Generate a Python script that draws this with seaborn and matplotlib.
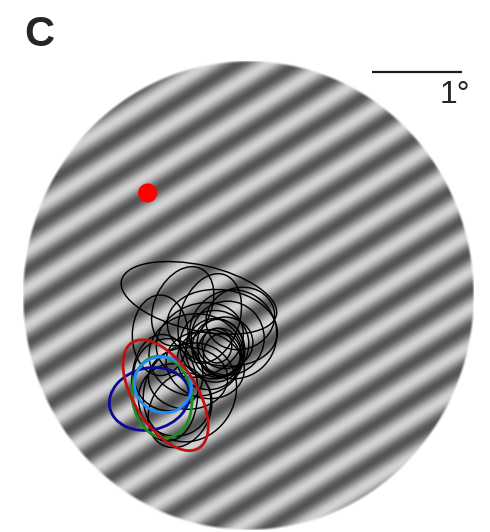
import numpy as np
import pandas as pd
import seaborn as sns
import matplotlib
matplotlib.use("Agg")
import matplotlib.pyplot as plt
from matplotlib.patches import Ellipse

sns.set_style("white")
plt.rcParams['font.family'] = ['Liberation Sans', 'DejaVu Sans']

# stimulus (grating in a circular aperture), all in degrees
aperture_radius = 2.5
grating_period = 0.34      # deg per cycle
grating_orient = 31        # stripe direction, deg above horizontal
grating_dark_phase = 0.142
gray_mean, gray_amp = 0.58, 0.25

# fixation point
fix_x = [-1.11]
fix_y = [1.10]

# receptive fields of the other cells (black)
rf_x = [-0.54, -0.72, -0.97, -0.92, -0.28, -0.16, -0.42, -0.66, -0.81, -0.36, -0.33, -0.31, -0.37,
        -0.28, -0.43, -0.25, -0.47, -0.22, -0.53, -0.75, -0.08, -0.34, -0.57, -0.64, -0.88]
rf_y = [-0.02, -0.11, -0.42, -0.98, -0.34, -0.41, -0.24, -0.88, -1.11, -0.58, -0.56, -0.60, -0.52,
        -0.63, -0.68, -0.50, -0.74, -0.45, -0.47, -1.22, -0.24, -0.53, -0.63, -1.03, -0.84]
rf_w = [1.76, 0.90, 0.62, 0.73, 1.23, 0.97, 0.66, 0.88, 0.81, 0.66, 0.57, 0.48, 0.77,
        0.42, 0.70, 0.62, 0.88, 0.81, 0.99, 0.66, 0.77, 0.33, 1.05, 0.99, 0.77]
rf_h = [0.70, 0.62, 0.86, 1.14, 0.81, 0.95, 0.99, 0.66, 0.77, 0.68, 0.62, 0.51, 0.73,
        0.46, 0.64, 0.55, 0.70, 0.79, 0.77, 0.84, 0.66, 0.37, 0.88, 1.10, 0.77]
rf_angle = [-12, 62, 0, 5, -8, 0, -20, 0, -20, 0, 0, 0, 10,
            0, 0, 0, -15, 0, 20, -30, 15, 0, 0, -40, 0]

# highlighted cells
hl_color = ['#0a0a96', '#1e8c1e', '#1e8cff', '#c01010']
hl_x = [-1.09, -0.95, -0.94, -0.91]
hl_y = [-1.10, -1.08, -0.95, -1.06]
hl_w = [0.90, 0.66, 0.64, 1.35]
hl_h = [0.66, 0.88, 0.59, 0.69]
hl_angle = [12, 10, -20, -56]

rfs = pd.DataFrame({'x': rf_x, 'y': rf_y, 'w': rf_w, 'h': rf_h, 'angle': rf_angle})
hls = pd.DataFrame({'x': hl_x, 'y': hl_y, 'w': hl_w, 'h': hl_h, 'angle': hl_angle, 'color': hl_color})

fig = plt.figure(figsize=(4.9, 5.32), dpi=100)
ax = fig.add_axes([0, 0, 1, 1])

# grating image with soft circular edge
n = 700
g = np.linspace(-aperture_radius, aperture_radius, n)
gx, gy = np.meshgrid(g, g)
th = np.deg2rad(grating_orient)
u = -np.sin(th) * gx + np.cos(th) * gy
lum = gray_mean - gray_amp * np.cos(2 * np.pi * (u - grating_dark_phase) / grating_period)
r = np.hypot(gx, gy)
alpha = np.clip((aperture_radius - r) / 0.03 + 0.5, 0, 1)
img = np.dstack([lum, lum, lum, alpha])
ax.imshow(img, extent=[-aperture_radius, aperture_radius, -aperture_radius, aperture_radius],
          origin='lower', interpolation='bilinear', zorder=1)

for _, row in rfs.iterrows():
    ax.add_patch(Ellipse((row.x, row.y), row.w, row.h, angle=row.angle, fill=False,
                         edgecolor='black', lw=1.05, zorder=2))
for _, row in hls.iterrows():
    ax.add_patch(Ellipse((row.x, row.y), row.w, row.h, angle=row.angle, fill=False,
                         edgecolor=row.color, lw=2.0, zorder=3))

sns.scatterplot(x=fix_x, y=fix_y, color='#ff0000', s=190, edgecolor='none', ax=ax, zorder=4)

# 1 degree scale bar
ax.plot([1.383, 2.383], [2.393, 2.393], color='#1a1a1a', lw=1.6, solid_capstyle='butt')
ax.text(2.47, 2.06, '1°', ha='right', va='baseline', fontsize=23)

fig.text(24 / 490, 1 - 46 / 532, 'C', ha='left', va='baseline', fontsize=30, fontweight='bold')

ax.set_xlim(-2.75, 2.694)
ax.set_ylim(-2.521, 3.162)
ax.set_aspect('auto')
ax.axis('off')

fig.savefig('out.png', dpi=100)
